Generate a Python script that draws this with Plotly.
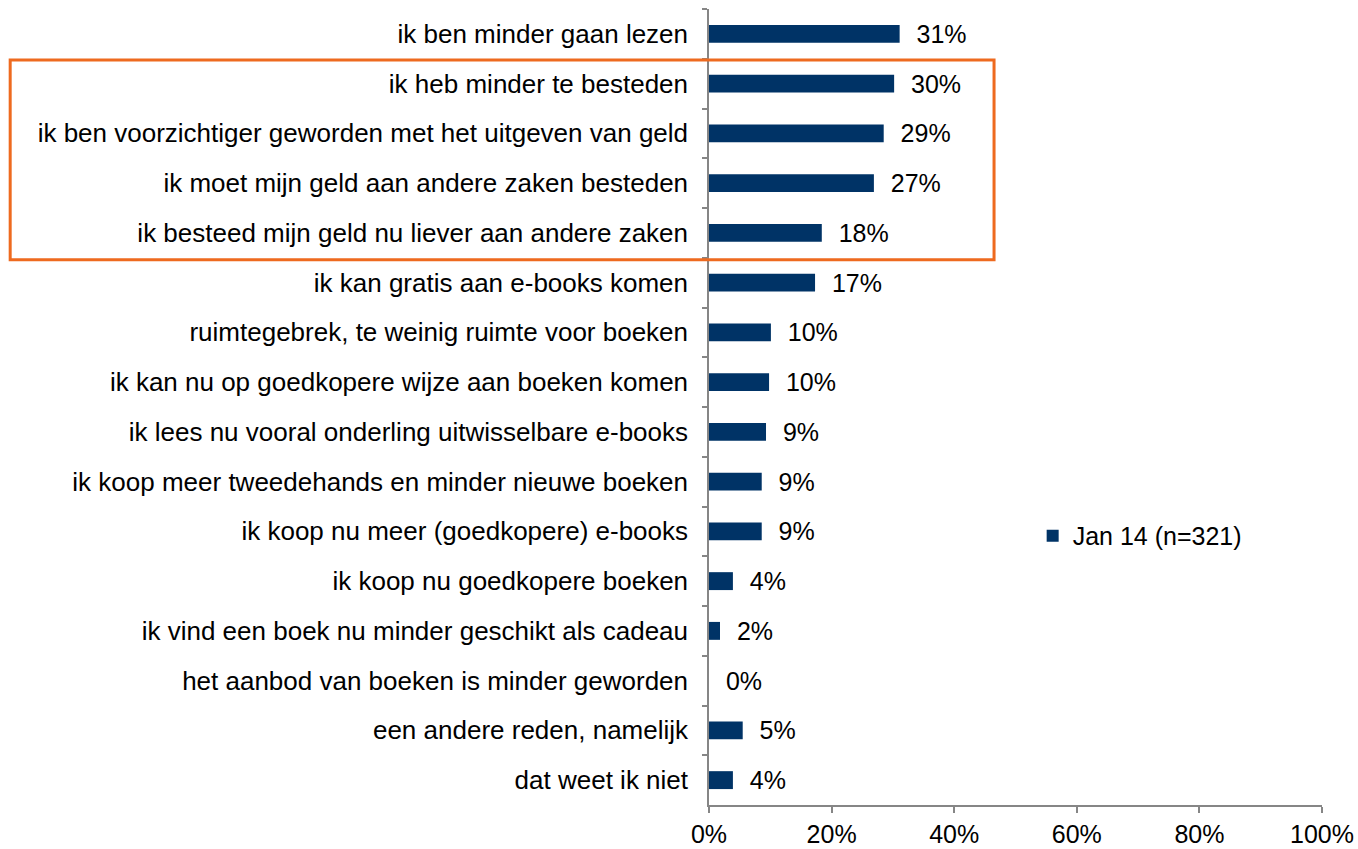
import plotly.graph_objects as go

categories = [
    "ik ben minder gaan lezen",
    "ik heb minder te besteden",
    "ik ben voorzichtiger geworden met het uitgeven van geld",
    "ik moet mijn geld aan andere zaken besteden",
    "ik besteed mijn geld nu liever aan andere zaken",
    "ik kan gratis aan e-books komen",
    "ruimtegebrek, te weinig ruimte voor boeken",
    "ik kan nu op goedkopere wijze aan boeken komen",
    "ik lees nu vooral onderling uitwisselbare e-books",
    "ik koop meer tweedehands en minder nieuwe boeken",
    "ik koop nu meer (goedkopere) e-books",
    "ik koop nu goedkopere boeken",
    "ik vind een boek nu minder geschikt als cadeau",
    "het aanbod van boeken is minder geworden",
    "een andere reden, namelijk",
    "dat weet ik niet",
]
values = [31.1, 30.2, 28.5, 26.9, 18.4, 17.3, 10.1, 9.8, 9.3, 8.6, 8.6, 3.9, 1.8, 0.0, 5.5, 3.9]
value_labels = ["31%", "30%", "29%", "27%", "18%", "17%", "10%", "10%", "9%", "9%", "9%", "4%", "2%", "0%", "5%", "4%"]
series_name = "Jan 14 (n=321)"
x_ticks = [0, 20, 40, 60, 80, 100]
x_tick_labels = ["0%", "20%", "40%", "60%", "80%", "100%"]

FONT = "Liberation Sans, Arial, sans-serif"
FS = 25
AXIS_COLOR = "#868686"

fig = go.Figure()
fig.add_trace(go.Bar(
    y=categories,
    x=values,
    orientation="h",
    name=series_name,
    marker=dict(color="#003366", line=dict(width=0)),
    text=["  " + t for t in value_labels],
    textposition="outside",
    constraintext="none",
    textfont=dict(family=FONT, size=FS, color="#000000"),
    cliponaxis=False,
    showlegend=True,
))

fig.update_layout(
    width=1358, height=849,
    margin=dict(l=709, r=36, t=9, b=44, autoexpand=False),
    paper_bgcolor="white",
    plot_bgcolor="white",
    bargap=0.64,
    font=dict(family=FONT, size=FS, color="#000000"),
    showlegend=True,
    legend=dict(
        x=0.528, y=0.338, xanchor="left", yanchor="middle",
        bgcolor="rgba(0,0,0,0)",
        font=dict(family=FONT, size=FS, color="#000000"),
        itemwidth=30,
    ),
    xaxis=dict(
        range=[0, 100],
        tickvals=x_ticks,
        ticktext=x_tick_labels,
        showgrid=False,
        zeroline=False,
        showline=True,
        linecolor=AXIS_COLOR,
        linewidth=1.5,
        ticks="outside",
        ticklen=6,
        tickcolor=AXIS_COLOR,
        tickwidth=1.5,
        tickfont=dict(family=FONT, size=FS, color="#000000"),
    ),
    yaxis=dict(
        autorange="reversed",
        showgrid=False,
        zeroline=False,
        showline=True,
        linecolor=AXIS_COLOR,
        linewidth=1.5,
        ticks="outside",
        ticklen=5,
        tickcolor=AXIS_COLOR,
        tickwidth=1.5,
        tickson="boundaries",
        ticklabelstandoff=14,
        tickfont=dict(family=FONT, size=26, color="#000000"),
    ),
    shapes=[dict(
        type="rect", xref="paper", yref="paper",
        x0=-1.140, x1=0.465, y0=0.685, y1=0.936,
        line=dict(color="#EE6A1F", width=3),
        fillcolor="rgba(0,0,0,0)",
    )],
)

fig.write_html(
    "out.html",
    config={"displayModeBar": False},
    post_script="document.body.style.margin='0';document.body.style.overflow='hidden';",
)
